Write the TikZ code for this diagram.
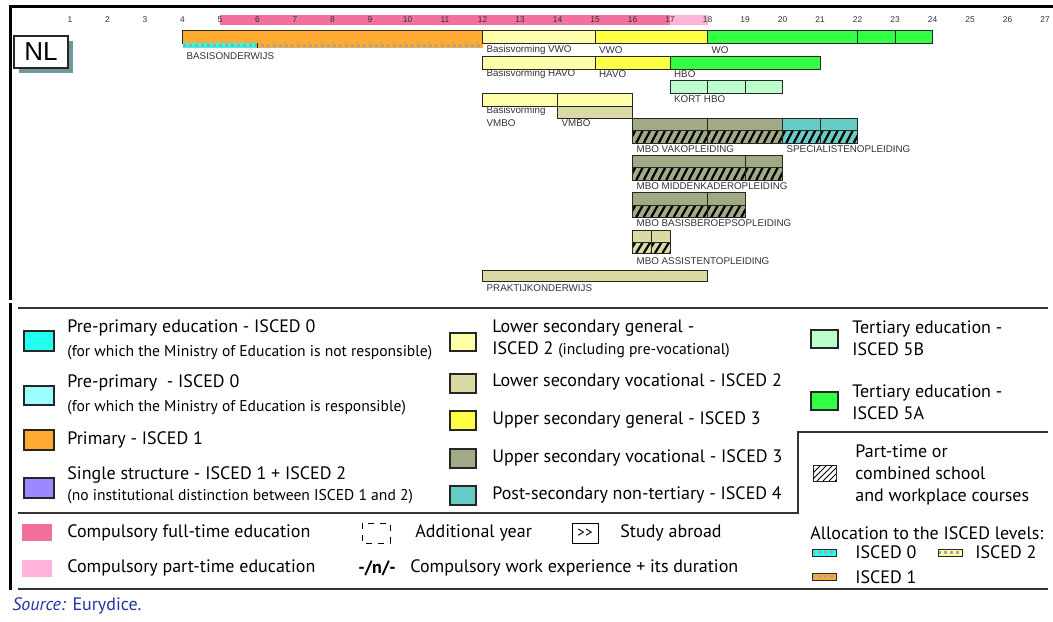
\documentclass[tikz,border=0pt]{standalone}
\usepackage{fontspec}
\setmainfont{PT Sans}
\newfontfamily\chartfont{Liberation Sans}

\definecolor{cftpink}{HTML}{F4709C}
\definecolor{cptpink}{HTML}{FFB2DA}
\definecolor{preprimno}{HTML}{22FFEE}
\definecolor{preprimyes}{HTML}{99FFFF}
\definecolor{primary}{HTML}{FFAA33}
\definecolor{single}{HTML}{9988FF}
\definecolor{lsgen}{HTML}{FFFFAA}
\definecolor{lsvoc}{HTML}{DADBA4}
\definecolor{usgen}{HTML}{FFFF44}
\definecolor{usvoc}{HTML}{A0AA84}
\definecolor{postsec}{HTML}{66CCC6}
\definecolor{tertb}{HTML}{BBFFCC}
\definecolor{terta}{HTML}{33FF44}
\definecolor{nlshadow}{HTML}{6F9999}
\definecolor{srcblue}{HTML}{2233AA}

\newcommand{\hatchcell}[5]{%
  \fill[#5] (#1,#3) rectangle (#2,#4);
  \begin{scope}
    \clip (#1,#3) rectangle (#2,#4);
    \foreach \h in {0,0.2,...,6.2}
      \draw[line width=1.1pt] ({#1+\h-0.1},#4) -- ({#1+\h+0.08},#3);
  \end{scope}
  \draw[bar] (#1,#3) rectangle (#2,#4);}

\begin{document}
\begin{tikzpicture}[x=0.5pt,y=-0.5pt,
  bar/.style={draw=black!85,line width=0.5pt},
  alloc/.style={draw=black!35,line width=1.2pt,dash pattern=on 1.5pt off 1.5pt},
  lbl/.style={anchor=west,inner sep=0pt,text=black!80,font=\chartfont\fontsize{4.9}{5}\selectfont},
  agenum/.style={inner sep=0pt,text=black!80,font=\chartfont\fontsize{4.2}{5}\selectfont},
  leg/.style={anchor=west,inner sep=0pt,align=left,font=\fontsize{9}{11.2}\selectfont},
  legsmall/.style={leg,font=\fontsize{7.8}{9}\selectfont},
  swatch/.style={draw=black!85,line width=0.6pt},
  sep/.style={draw=black!80,line width=0.7pt}]
  \useasboundingbox (0,0) rectangle (1053,621);

  \draw[line width=1.5pt] (1053,6) -- (10,6) -- (10,300);
  \draw[line width=1.5pt] (10,303) -- (10,590);

  \fill[nlshadow] (19,41) rectangle (73,73);
  \node[draw=black!85,fill=white,line width=0.6pt,minimum width=27pt,minimum height=16pt,inner sep=0pt,
    font=\chartfont\fontsize{13}{13}\selectfont] (nl) at (41,52) {NL};

  \begin{scope}[xshift=16.25pt,x=18.75pt]
    \fill[cftpink] (5,15) rectangle (17,25);
    \fill[cptpink] (17,15) rectangle (18,25);
    \foreach \a in {1,...,27}
      \node[agenum] (age\a) at (\a,20) {\a};

    \draw[bar,fill=primary] (4,30) rectangle (12,43);
    \fill[preprimno] (4,43) rectangle (6,48);
    \fill[primary] (6,43) rectangle (12,48);
    \draw[alloc] (4,45.5) -- (12,45.5);
    \draw[bar] (6,43) -- (6,48);
    \node[lbl] (basis) at (4.1,56) {BASISONDERWIJS};

    \draw[bar,fill=lsgen] (12,30) rectangle (15,43);
    \draw[bar,fill=usgen] (15,30) rectangle (18,43);
    \draw[bar,fill=terta] (18,30) rectangle (22,43) (22,30) rectangle (23,43) (23,30) rectangle (24,43);
    \node[lbl] (bvwo) at (12.1,50) {Basisvorming VWO};
    \node[lbl] (vwo) at (15.1,50) {VWO};
    \node[lbl] (wo) at (18.1,50) {WO};

    \draw[bar,fill=lsgen] (12,56) rectangle (15,69);
    \draw[bar,fill=usgen] (15,56) rectangle (17,69);
    \draw[bar,fill=terta] (17,56) rectangle (21,69);
    \node[lbl] (bhavo) at (12.1,74) {Basisvorming HAVO};
    \node[lbl] (havo) at (15.1,74) {HAVO};
    \node[lbl] (hbo) at (17.1,74) {HBO};

    \draw[bar,fill=tertb] (17,80) rectangle (18,93) (18,80) rectangle (19,93) (19,80) rectangle (20,93);
    \node[lbl] (khbo) at (17.1,99) {KORT HBO};

    \draw[bar,fill=lsgen] (12,93) rectangle (14,106) (14,93) rectangle (16,106);
    \draw[bar,fill=lsvoc] (14,106) rectangle (16,118);
    \node[lbl] (bvmbo) at (12.1,111) {Basisvorming};
    \node[lbl] (bvmbob) at (12.1,123) {VMBO};
    \node[lbl] (vmbo) at (14.1,123) {VMBO};

    \draw[bar,fill=usvoc] (16,118) rectangle (18,130) (18,118) rectangle (20,130);
    \draw[bar,fill=postsec] (20,118) rectangle (21,130) (21,118) rectangle (22,130);
    \hatchcell{16}{18}{130}{143}{usvoc}
    \hatchcell{18}{20}{130}{143}{usvoc}
    \hatchcell{20}{21}{130}{143}{postsec}
    \hatchcell{21}{22}{130}{143}{postsec}
    \node[lbl] (vak) at (16.1,149) {MBO VAKOPLEIDING};
    \node[lbl] (spec) at (20.1,149) {SPECIALISTENOPLEIDING};

    \draw[bar,fill=usvoc] (16,155) rectangle (19,167) (19,155) rectangle (20,167);
    \hatchcell{16}{19}{167}{180}{usvoc}
    \hatchcell{19}{20}{167}{180}{usvoc}
    \node[lbl] (midden) at (16.1,186) {MBO MIDDENKADEROPLEIDING};

    \draw[bar,fill=usvoc] (16,192) rectangle (18,205) (18,192) rectangle (19,205);
    \hatchcell{16}{18}{205}{217}{usvoc}
    \hatchcell{18}{19}{205}{217}{usvoc}
    \node[lbl] (basisb) at (16.1,223) {MBO BASISBEROEPSOPLEIDING};

    \draw[bar,fill=lsvoc] (16,230) rectangle (16.5,242) (16.5,230) rectangle (17,242);
    \hatchcell{16}{16.5}{242}{253}{lsvoc}
    \hatchcell{16.5}{17}{242}{253}{lsvoc}
    \node[lbl] (assist) at (16.1,261) {MBO ASSISTENTOPLEIDING};

    \draw[bar,fill=lsvoc] (12,270) rectangle (18,281);
    \node[lbl] (prak) at (12.1,288) {PRAKTIJKONDERWIJS};
  \end{scope}

  \draw[sep] (18,308) -- (1048,308);
  \draw[sep] (18,513) -- (798,513) -- (798,432) -- (1048,432);
  \draw[sep] (18,589) -- (1048,589);

  \draw[swatch,fill=preprimno] (24,331) rectangle (54,351);
  \node[leg] (lpreno) at (67,328) {Pre-primary education - ISCED 0};
  \node[legsmall] (lprenob) at (67,353) {(for which the Ministry of Education is not responsible)};
  \draw[swatch,fill=preprimyes] (24,386) rectangle (54,405);
  \node[leg] (lpreyes) at (67,383) {Pre-primary\ \ - ISCED 0};
  \node[legsmall] (lpreyesb) at (67,408) {(for which the Ministry of Education is responsible)};
  \draw[swatch,fill=primary] (24,430) rectangle (54,450);
  \node[leg] (lprim) at (67,440) {Primary - ISCED 1};
  \draw[swatch,fill=single] (24,478) rectangle (54,498);
  \node[leg] (lsingle) at (67,475) {Single structure - ISCED 1 + ISCED 2};
  \node[legsmall] (lsingleb) at (67,497) {(no institutional distinction between ISCED 1 and 2)};

  \draw[swatch,fill=lsgen] (450,333) rectangle (476,351);
  \node[leg] (llsgen) at (492,339) {Lower secondary general -\\ISCED 2 {\fontsize{7.8}{9}\selectfont(including pre-vocational)}};
  \draw[swatch,fill=lsvoc] (450,374) rectangle (476,393);
  \node[leg] (llsvoc) at (492,382) {Lower secondary vocational - ISCED 2};
  \draw[swatch,fill=usgen] (450,411) rectangle (476,430);
  \node[leg] (lusgen) at (492,420) {Upper secondary general - ISCED 3};
  \draw[swatch,fill=usvoc] (450,449) rectangle (476,468);
  \node[leg] (lusvoc) at (492,458) {Upper secondary vocational - ISCED 3};
  \draw[swatch,fill=postsec] (450,486) rectangle (476,505);
  \node[leg] (lpost) at (492,495) {Post-secondary non-tertiary - ISCED 4};

  \draw[swatch,fill=tertb] (811,330) rectangle (838,348);
  \node[leg] (ltertb) at (852,338) {Tertiary education -\\ISCED 5B};
  \draw[swatch,fill=terta] (811,392) rectangle (838,410);
  \node[leg] (lterta) at (852,402) {Tertiary education -\\ISCED 5A};
  \draw[swatch,line width=0.4pt] (813,465) rectangle (836,481);
  \begin{scope}
    \clip (813,465) rectangle (836,481);
    \foreach \h in {0,6,...,36}
      \draw[line width=0.4pt] (805+\h,481) -- (821+\h,465);
  \end{scope}
  \node[leg] (lpart) at (855,475) {Part-time or\\combined school\\and workplace courses};

  \fill[cftpink] (22,524) rectangle (52,541);
  \node[leg] (lcft) at (67,533) {Compulsory full-time education};
  \fill[cptpink] (22,560) rectangle (52,577);
  \node[leg] (lcpt) at (67,568) {Compulsory part-time education};
  \draw[dashed,line width=0.5pt] (362,523) rectangle (390,543);
  \node[leg] (ladd) at (415,533) {Additional year};
  \node[draw,line width=0.5pt,minimum width=13pt,minimum height=10pt,inner sep=0pt,font=\fontsize{7.5}{8}\selectfont] (abroad) at (585,533) {>{}>};
  \node[leg] (lstudy) at (620,533) {Study abroad};
  \node[leg,font=\bfseries\fontsize{9}{10}\selectfont] (nwork) at (358,568) {-/n/-};
  \node[leg] (lwork) at (410,568) {Compulsory work experience + its duration};

  \node[leg] (lalloc) at (810,533) {Allocation to the ISCED levels:};
  \fill[preprimno] (812,549) rectangle (836,556);
  \draw[alloc] (812,552.5) -- (836,552.5);
  \draw[swatch,line width=0.4pt] (812,549) rectangle (836,556);
  \node[leg] (lis0) at (855,552) {ISCED 0};
  \fill[lsgen] (938,549) rectangle (962,556);
  \draw[alloc] (938,552.5) -- (962,552.5);
  \draw[swatch,line width=0.4pt] (938,549) rectangle (962,556);
  \node[leg] (lis2) at (975,552) {ISCED 2};
  \fill[primary] (812,573) rectangle (836,580);
  \draw[alloc] (812,576.5) -- (836,576.5);
  \draw[swatch,line width=0.4pt] (812,573) rectangle (836,580);
  \node[leg] (lis1) at (855,577) {ISCED 1};

  \node[leg,text=srcblue] (src) at (12,606) {\textit{Source:} Eurydice.};
\end{tikzpicture}
\end{document}
